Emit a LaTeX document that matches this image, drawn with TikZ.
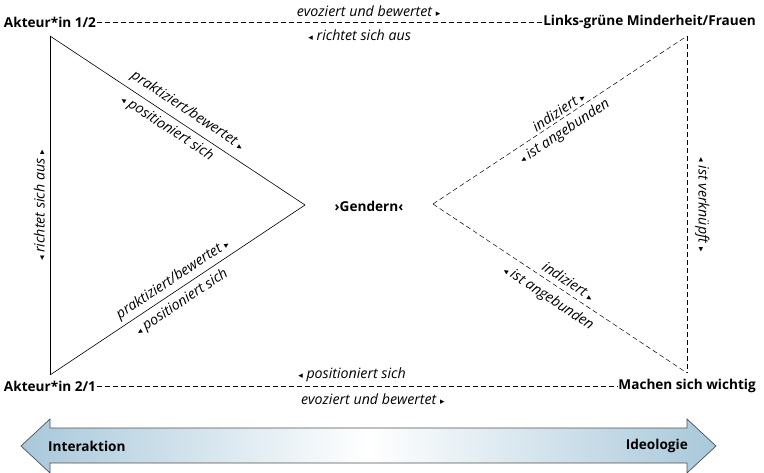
\documentclass[tikz,border=0pt]{standalone}
\usepackage{fontspec}
\setmainfont{Open Sans}
\newfontfamily\symbfont{DejaVu Sans}
\usetikzlibrary{arrows.meta}
\definecolor{axisblue}{RGB}{168,200,218}
\definecolor{axisgray}{RGB}{80,80,80}
\newcommand{\tril}{{\symbfont\fontsize{9}{9}\selectfont ◂}}
\newcommand{\trir}{{\symbfont\fontsize{9}{9}\selectfont ▸}}

\begin{document}
\begin{tikzpicture}[x=1pt,y=-1pt,
    pole/.style={font=\fontsize{13.6}{15}\bfseries, inner sep=1pt},
    rel/.style={font=\fontsize{14.2}{16}\itshape, inner sep=0pt},
    dashline/.style={dash pattern=on 5pt off 3pt, line width=0.5pt},
    solidline/.style={line width=0.6pt}]
    \useasboundingbox (0,0) rectangle (764,473);
    %\draw[help lines, step=50] (0,0) grid (764,473);
    % Pole
    \node[pole] (akteur1) at (50,22) {Akteur*in 1/2};
    \node[pole] (akteur2) at (50,386) {Akteur*in 2/1};
    \node[pole, anchor=east] (links) at (757,22) {Links-grüne Minderheit/Frauen};
    \node[pole, anchor=east] (machen) at (757,386) {Machen sich wichtig};
    \node[pole] (gendern) at (369,206) {›Gendern‹};
    % Ecken der Dreiecke
    \coordinate (ltop) at (50,36);
    \coordinate (lbot) at (50,375);
    \coordinate (lapex) at (305,205);
    \coordinate (rapex) at (433,204);
    \coordinate (rtop) at (687,36);
    \coordinate (rbot) at (687,373);
    % horizontale Linien
    \draw[dashline] (akteur1.east) -- (links.west)
        node[rel, pos=0.61, above=5pt] {evoziert und bewertet \trir}
        node[rel, pos=0.59, below=7pt] {\tril\ richtet sich aus};
    \draw[dashline] (akteur2.east) -- (machen.west)
        node[rel, pos=0.49, above=4pt] {\tril\ positioniert sich}
        node[rel, pos=0.53, below=7pt] {evoziert und bewertet \trir};
    % linkes Dreieck
    \draw[solidline] (lbot) -- (ltop)
        node[rel, sloped, pos=0.5, above=5pt] {\tril\ richtet sich aus \trir};
    \draw[solidline] (ltop) -- (lapex)
        node[rel, sloped, pos=0.51, above=6pt] {praktiziert/bewertet \trir}
        node[rel, sloped, pos=0.486, below=4.7pt] {\tril\ positioniert sich};
    \draw[solidline] (lbot) -- (lapex)
        node[rel, sloped, pos=0.506, above=3.8pt] {praktiziert/bewertet \trir}
        node[rel, sloped, pos=0.49, below=5.4pt] {\tril\ positioniert sich};
    % rechtes Dreieck
    \draw[dashline] (rapex) -- (rtop)
        node[rel, sloped, pos=0.511, above=2.5pt] {indiziert \trir}
        node[rel, sloped, pos=0.492, below=4.9pt] {\tril\ ist angebunden};
    \draw[dashline] (rapex) -- (rbot)
        node[rel, sloped, pos=0.51, above=5.2pt] {indiziert \trir}
        node[rel, sloped, pos=0.486, below=7.2pt] {\tril\ ist angebunden};
    \draw[dashline] (rtop) -- (rbot)
        node[rel, pos=0.5, rotate=-90, above=8pt] {\tril\ ist verknüpft \trir};
    % Achse
    \draw[axisgray, line width=0.7pt, left color=axisblue, right color=axisblue, middle color=white]
        (21,446) -- (50,419) -- (50,428) -- (687,428) -- (687,419) -- (716,446)
        -- (687,473) -- (687,463) -- (50,463) -- (50,473) -- cycle;
    \node[pole, anchor=west] (interaktion) at (47,446) {Interaktion};
    \node[pole, anchor=east] (ideologie) at (689,446) {Ideologie};
\end{tikzpicture}
\end{document}
